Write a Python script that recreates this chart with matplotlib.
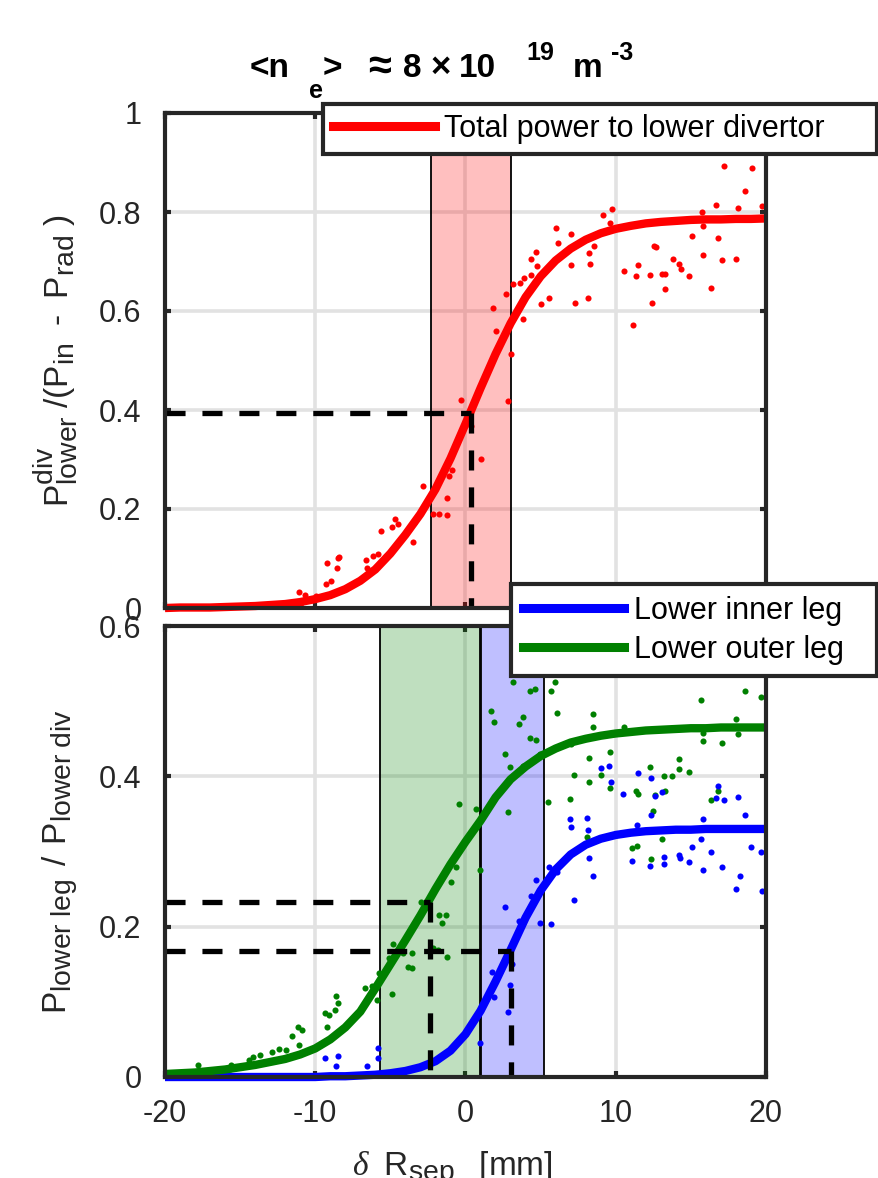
import matplotlib
matplotlib.use('Agg')
import matplotlib.pyplot as plt
import matplotlib._mathtext as _mt
from matplotlib.lines import Line2D

plt.rcParams['font.family'] = ['Liberation Sans', 'DejaVu Sans']
plt.rcParams['mathtext.fontset'] = 'custom'
plt.rcParams['mathtext.rm'] = 'Liberation Sans'
plt.rcParams['mathtext.it'] = 'Liberation Serif:italic'
plt.rcParams['mathtext.bf'] = 'Liberation Sans:bold'
plt.rcParams['mathtext.default'] = 'regular'
_mt.SHRINK_FACTOR = 0.85   # MATLAB-like larger sub/superscripts

# ---------------- data ----------------
fit_x = list(range(-20, 21))
red_fit = [0.000, 0.001, 0.001, 0.001, 0.002, 0.003, 0.004, 0.006, 0.008, 0.012,
           0.018, 0.026, 0.038, 0.055, 0.078, 0.110, 0.148, 0.190, 0.240, 0.302,
           0.372, 0.444, 0.513, 0.575, 0.628, 0.670, 0.702, 0.726, 0.744, 0.757,
           0.766, 0.772, 0.777, 0.780, 0.782, 0.784, 0.785, 0.785, 0.786, 0.786, 0.787]
blue_fit = [0.000, 0.000, 0.000, 0.000, 0.000, 0.000, 0.000, 0.000, 0.000, 0.000,
            0.000, 0.001, 0.001, 0.002, 0.003, 0.005, 0.008, 0.013, 0.021, 0.035,
            0.057, 0.088, 0.127, 0.169, 0.212, 0.248, 0.276, 0.296, 0.309, 0.317,
            0.322, 0.325, 0.327, 0.328, 0.329, 0.329, 0.330, 0.330, 0.330, 0.330, 0.330]
green_fit = [0.004, 0.005, 0.006, 0.008, 0.010, 0.013, 0.016, 0.020, 0.024, 0.030,
             0.038, 0.050, 0.066, 0.087, 0.118, 0.150, 0.182, 0.215, 0.250, 0.283,
             0.313, 0.341, 0.372, 0.396, 0.413, 0.427, 0.437, 0.445, 0.450, 0.454,
             0.457, 0.459, 0.461, 0.462, 0.463, 0.464, 0.464, 0.465, 0.465, 0.465, 0.465]

red_x = [-11.11, -10.71, -10.96, -9.97, -9.31, -8.94, -9.19, -8.57, -8.48, -8.39,
         -6.59, -6.56, -6.16, -5.85, -5.60, -4.92, -4.70, -4.51, -3.89, -3.52,
         -3.46, -2.84, -2.13, -1.79, -1.20, -1.20, -1.10, -0.89, -0.27, 0.35,
         1.06, 1.81, 2.00, 2.71, 3.02, 2.86, 3.17, 3.63, 3.91, 3.85,
         4.38, 4.38, 4.69, 4.75, 5.03, 5.59, 6.02, 6.14, 7.04, 7.01,
         7.29, 8.16, 8.22, 8.28, 8.53, 9.12, 9.74, 9.65, 10.54, 11.16,
         11.38, 11.50, 12.31, 12.40, 12.53, 12.68, 13.11, 13.30, 13.27, 13.80,
         14.23, 14.32, 14.85, 15.10, 15.72, 15.81, 15.81, 16.31, 16.65, 16.83,
         17.05, 17.20, 17.98, 18.13, 18.60, 19.06, 19.71]
red_y = [0.032, 0.026, 0.003, 0.024, 0.048, 0.054, 0.091, 0.081, 0.102, 0.104,
         0.097, 0.081, 0.106, 0.109, 0.155, 0.163, 0.180, 0.170, 0.155, 0.133,
         0.172, 0.246, 0.190, 0.190, 0.188, 0.223, 0.266, 0.279, 0.421, 0.368,
         0.301, 0.606, 0.559, 0.635, 0.513, 0.418, 0.655, 0.656, 0.666, 0.583,
         0.672, 0.705, 0.719, 0.690, 0.615, 0.626, 0.768, 0.737, 0.756, 0.693,
         0.616, 0.627, 0.717, 0.695, 0.732, 0.793, 0.806, 0.777, 0.680, 0.571,
         0.670, 0.692, 0.673, 0.617, 0.732, 0.730, 0.674, 0.674, 0.645, 0.705,
         0.694, 0.684, 0.671, 0.752, 0.799, 0.771, 0.713, 0.647, 0.814, 0.748,
         0.704, 0.892, 0.705, 0.808, 0.843, 0.888, 0.812]

green_x = [-17.83, -15.60, -15.70, -14.43, -14.15, -13.68, -12.91, -12.41, -11.95, -11.54,
           -11.17, -10.86, -11.11, -9.35, -9.10, -8.66, -8.48, -8.63, -9.25, -6.71,
           -6.22, -5.91, -5.78, -4.92, -4.85, -5.07, -4.14, -3.83, -3.58, -3.58,
           -2.96, -2.19, -1.82, -1.76, -1.29, -1.57, -1.26, -0.95, -0.64, -0.42,
           0.72, 0.97, 1.71, 1.90, 2.64, 2.80, 2.95, 3.14, 3.54, 3.82,
           3.82, 4.32, 4.32, 4.63, 4.69, 4.94, 5.49, 5.68, 5.93, 6.08,
           7.01, 6.95, 7.23, 8.10, 8.19, 8.25, 8.47, 8.47, 9.03, 9.64,
           9.64, 10.57, 10.51, 11.10, 11.35, 11.44, 11.50, 12.28, 12.37, 12.50,
           12.62, 13.08, 13.21, 13.30, 13.77, 14.20, 14.23, 14.85, 15.69, 15.78,
           15.78, 16.31, 16.83, 17.08, 17.98, 18.13, 18.60, 19.68, 18.32]
green_y = [0.016, 0.016, 0.003, 0.023, 0.026, 0.029, 0.033, 0.037, 0.036, 0.055,
           0.066, 0.063, 0.043, 0.085, 0.083, 0.089, 0.098, 0.108, 0.067, 0.118,
           0.121, 0.103, 0.138, 0.111, 0.177, 0.158, 0.165, 0.147, 0.145, 0.165,
           0.233, 0.171, 0.169, 0.216, 0.216, 0.205, 0.160, 0.260, 0.280, 0.363,
           0.357, 0.276, 0.487, 0.472, 0.430, 0.352, 0.412, 0.526, 0.469, 0.479,
           0.414, 0.514, 0.451, 0.516, 0.448, 0.430, 0.366, 0.513, 0.526, 0.484,
           0.443, 0.370, 0.402, 0.319, 0.392, 0.424, 0.483, 0.465, 0.402, 0.433,
           0.384, 0.465, 0.324, 0.304, 0.380, 0.307, 0.377, 0.412, 0.290, 0.354,
           0.375, 0.316, 0.400, 0.381, 0.400, 0.423, 0.410, 0.406, 0.502, 0.457,
           0.447, 0.369, 0.381, 0.445, 0.476, 0.456, 0.514, 0.505, 0.537]

blue_x = [-9.35, -8.48, -8.63, -6.53, -5.85, -5.85, 0.97, 1.75, 1.90, 2.83,
          2.98, 3.08, 2.64, 3.54, 4.38, 4.69, 4.94, 5.53, 5.68, 6.08,
          6.95, 7.01, 7.23, 8.10, 8.16, 8.25, 8.47, 9.03, 9.58, 9.71,
          10.51, 11.10, 11.44, 11.50, 12.28, 12.37, 12.37, 12.62, 13.08, 13.21,
          13.21, 14.23, 14.29, 14.85, 15.07, 15.69, 15.78, 15.81, 16.31, 16.65,
          16.83, 17.05, 17.20, 17.98, 18.13, 18.26, 18.60, 19.03, 19.68, 19.71]
blue_y = [0.025, 0.028, 0.015, 0.015, 0.038, 0.025, 0.045, 0.140, 0.107, 0.087,
          0.122, 0.150, 0.226, 0.207, 0.241, 0.262, 0.205, 0.280, 0.204, 0.273,
          0.343, 0.333, 0.236, 0.344, 0.329, 0.291, 0.268, 0.411, 0.414, 0.393,
          0.377, 0.287, 0.335, 0.404, 0.281, 0.398, 0.348, 0.374, 0.379, 0.284,
          0.293, 0.295, 0.292, 0.286, 0.306, 0.316, 0.343, 0.276, 0.300, 0.371,
          0.387, 0.279, 0.369, 0.250, 0.372, 0.268, 0.349, 0.306, 0.299, 0.248]

red_band = [-2.28, 3.02]
green_band = [-5.69, 0.97]
blue_band = [1.03, 5.25]
red_mid = [0.35, 0.394]
green_mid = [-2.35, 0.233]
blue_mid = [3.01, 0.167]

x_ticks = [-20, -10, 0, 10, 20]
x_ticklabels = ['-20', '-10', '0', '10', '20']
top_yticks = [0, 0.2, 0.4, 0.6, 0.8, 1.0]
top_yticklabels = ['0', '0.2', '0.4', '0.6', '0.8', '1']
bot_yticks = [0, 0.2, 0.4, 0.6]
bot_yticklabels = ['0', '0.2', '0.4', '0.6']

legend_top = ['Total power to lower divertor']
legend_bot = ['Lower inner leg', 'Lower outer leg']

# title pieces: (text, role) ; role: main / sub / sup / sym / op
title_pieces = [('<n', 'main'), ('e', 'sub'), ('>', 'main'), ('\u2248', 'sym'),
                ('8', 'main'), ('\u00d7', 'op'), ('10', 'main'), ('19', 'sup'),
                ('m', 'main'), ('-3', 'sup')]
top_ylabel = '$P^{div}_{lower}\\ /(P_{in}\\ \\ \u2010\\ \\ P_{rad}\\ )$'
bot_ylabel = r'$P_{lower\ leg}\ \,/\ \,P_{lower\ div}$'
x_label = r'$\mathit{\delta}\ \ R_{sep}\ \ \ [mm]$'

# ---------------- style ----------------
W, H = 879, 1178
DARK = '#262626'
GRID = '#e2e2e2'
FS = 22
dash = (0, (3.8, 3.2))

fig = plt.figure(figsize=(W / 100, H / 100), dpi=100)
ax1 = fig.add_axes([165 / W, 1 - 608 / H, 601 / W, 495 / H])
ax2 = fig.add_axes([165 / W, 1 - 1077 / H, 601 / W, 451 / H])


def style(ax, yticks, yticklabels, ylim, show_xlabels):
    ax.set_xlim(-20, 20)
    ax.set_ylim(*ylim)
    ax.set_axisbelow(True)
    ax.grid(True, color=GRID, lw=2.6)
    ax.set_xticks(x_ticks)
    ax.set_yticks(yticks)
    ax.set_yticklabels(yticklabels)
    if show_xlabels:
        ax.set_xticklabels(x_ticklabels)
    else:
        ax.set_xticklabels([])
    for s in ax.spines.values():
        s.set_color(DARK)
        s.set_linewidth(3)
        s.set_zorder(6)
    ax.tick_params(direction='in', length=4.5, width=3, color=DARK,
                   top=True, right=True, labelsize=FS, labelcolor=DARK)
    ax.tick_params(axis='y', pad=17)
    ax.tick_params(axis='x', pad=16)


style(ax1, top_yticks, top_yticklabels, (0, 1), False)
style(ax2, bot_yticks, bot_yticklabels, (0, 0.6), True)

# bands
ax1.axvspan(red_band[0], red_band[1], facecolor=(1, 0, 0, 0.25), edgecolor='black', lw=1.3, zorder=1)
ax2.axvspan(green_band[0], green_band[1], facecolor=(0, 0.5, 0, 0.25), edgecolor='black', lw=1.3, zorder=1)
ax2.axvspan(blue_band[0], blue_band[1], facecolor=(0, 0, 1, 0.25), edgecolor='black', lw=1.3, zorder=1)

# scatter points
ax1.plot(red_x, red_y, 'o', color='red', ms=4.4, mew=0, zorder=2)
ax2.plot(green_x, green_y, 'o', color='green', ms=4.4, mew=0, zorder=2)
ax2.plot(blue_x, blue_y, 'o', color='blue', ms=4.4, mew=0, zorder=2)

# fitted curves
ax1.plot(fit_x, red_fit, color='red', lw=6, zorder=3, clip_on=False, solid_capstyle='butt')
ax2.plot(fit_x, blue_fit, color='blue', lw=6, zorder=3, clip_on=False, solid_capstyle='butt')
ax2.plot(fit_x, green_fit, color='green', lw=6, zorder=3, clip_on=False, solid_capstyle='butt')

# dashed guides
ax1.plot([-20, red_mid[0]], [red_mid[1], red_mid[1]], color='black', lw=3.8, ls=dash, zorder=4)
ax1.plot([red_mid[0], red_mid[0]], [red_mid[1], 0], color='black', lw=3.8, ls=dash, zorder=4)
for m in (green_mid, blue_mid):
    ax2.plot([-20, m[0]], [m[1], m[1]], color='black', lw=3.8, ls=dash, zorder=4)
    ax2.plot([m[0], m[0]], [m[1], 0], color='black', lw=3.8, ls=dash, zorder=4)

# axis labels
ax1.set_ylabel(top_ylabel, fontsize=24, color=DARK)
ax1.yaxis.set_label_coords(-0.142, 0.5)
ax2.set_ylabel(bot_ylabel, fontsize=24, color=DARK)
ax2.yaxis.set_label_coords(-0.142, 0.478)
ax2.set_xlabel(x_label, fontsize=24, color=DARK)
ax2.xaxis.set_label_coords(0.478, -0.16)

# title (MATLAB TeX-style spacing with lowered / raised pieces)
title_x = [250, 309, 323, 368, 403, 431, 459, 526, 573, 611]
role_base = {'main': 77, 'sub': 98, 'sup': 60, 'sym': 79, 'op': 77}
role_size = {'main': 24, 'sub': 18, 'sup': 18, 'sym': 30, 'op': 25}
for (txt, role), xp in zip(title_pieces, title_x):
    fig.text(xp / W, 1 - role_base[role] / H, txt, fontsize=role_size[role],
             fontweight='bold', color='black', ha='left', va='baseline')

# legends
leg_kw = dict(mode='expand', borderaxespad=0, fontsize=22, handlelength=3.33,
              handletextpad=0.32, labelspacing=0.3, fancybox=False,
              framealpha=1, edgecolor=DARK, loc='upper left')
h1 = [Line2D([], [], color='red', lw=6.5)]
top1 = 1 - 104 / H
leg1 = fig.legend(h1, legend_top, bbox_to_anchor=(323 / W, top1 - 0.1, 554 / W, 0.1),
                  borderpad=0.32, **leg_kw)
leg1.get_frame().set_linewidth(3)
h2 = [Line2D([], [], color='blue', lw=6.5), Line2D([], [], color='green', lw=6.5)]
top2 = 1 - 584 / H
leg2 = fig.legend(h2, legend_bot, bbox_to_anchor=(511 / W, top2 - 0.1, 366 / W, 0.1),
                  borderpad=0.38, **leg_kw)
leg2.get_frame().set_linewidth(3)

fig.savefig('out.png', dpi=100, facecolor='white')
